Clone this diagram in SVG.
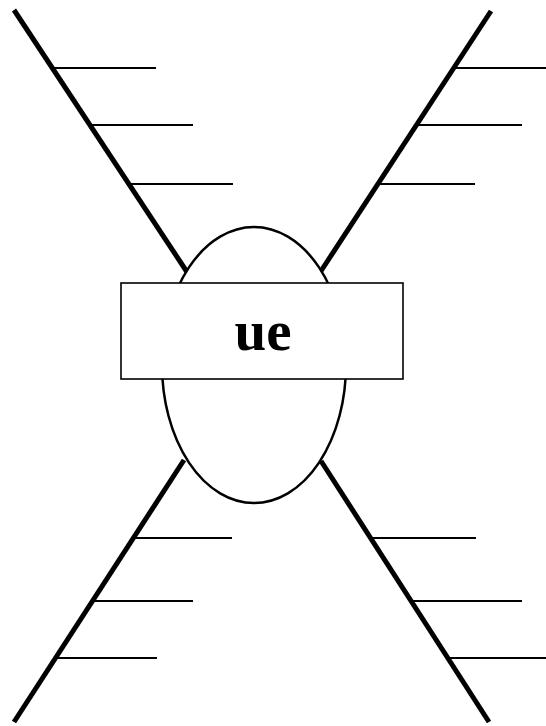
<svg xmlns="http://www.w3.org/2000/svg" width="546" height="726" viewBox="0 0 546 726">
<style>
.leg{stroke:#000;stroke-width:5;fill:none}
.rib{stroke:#000;stroke-width:2;fill:none}
.body{stroke:#000;stroke-width:2.5;fill:#fff}
.box{stroke:#000;stroke-width:1.6;fill:#fff}
.lbl{font-family:"Liberation Serif","Times New Roman",serif;font-weight:bold;font-size:57px;fill:#000}
</style>
<rect width="546" height="726" fill="#fff"/>
<g id="connectors">
<g id="leg-top-left">
<line class="leg" x1="14" y1="10" x2="187" y2="272"/>
<line class="rib" x1="54" y1="68" x2="156" y2="68"/>
<line class="rib" x1="92" y1="125" x2="193" y2="125"/>
<line class="rib" x1="131" y1="184" x2="233" y2="184"/>
</g>
<g id="leg-top-right">
<line class="leg" x1="491" y1="11" x2="321" y2="271"/>
<line class="rib" x1="454" y1="68" x2="546" y2="68"/>
<line class="rib" x1="417" y1="125" x2="522" y2="125"/>
<line class="rib" x1="379" y1="184" x2="475" y2="184"/>
</g>
<g id="leg-bottom-left">
<line class="leg" x1="14" y1="722" x2="184" y2="460"/>
<line class="rib" x1="131" y1="538" x2="232" y2="538"/>
<line class="rib" x1="92" y1="601" x2="193" y2="601"/>
<line class="rib" x1="55" y1="658" x2="157" y2="658"/>
</g>
<g id="leg-bottom-right">
<line class="leg" x1="321" y1="461" x2="489" y2="722"/>
<line class="rib" x1="370" y1="538" x2="476" y2="538"/>
<line class="rib" x1="411" y1="601" x2="522" y2="601"/>
<line class="rib" x1="447" y1="658" x2="546" y2="658"/>
</g>
</g>
<g id="center">
<ellipse class="body" cx="254" cy="365" rx="92" ry="138"/>
</g>
<g id="label-box">
<rect class="box" x="121" y="283" width="282" height="96"/>
<text class="lbl" x="263" y="350" text-anchor="middle">ue</text>
</g>
</svg>
